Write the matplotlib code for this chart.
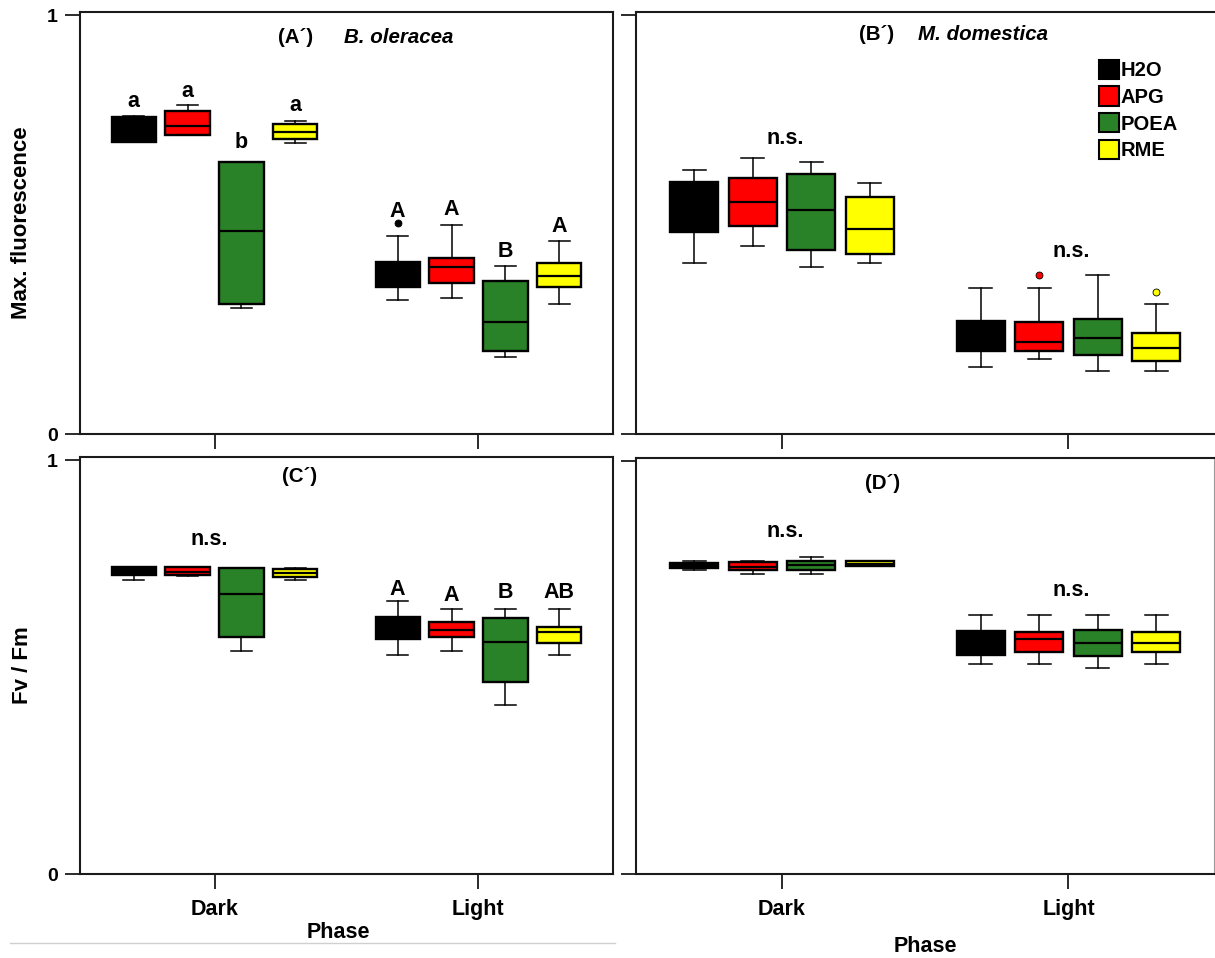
import matplotlib
matplotlib.use('Agg')
import matplotlib.pyplot as plt
from matplotlib.patches import Patch
from matplotlib.lines import Line2D

plt.rcParams['font.family'] = ['Liberation Sans', 'DejaVu Sans']

phases = ['Dark', 'Light']
treatments = ['H2O', 'APG', 'POEA', 'RME']
colors = ['#000000', '#FF0000', '#2A8228', '#FFFF00']

# ---- Panel A: Max. fluorescence, B. oleracea  ([Dark], [Light]) per treatment
A_lo  = [[0.698, 0.714, 0.302, 0.696], [0.321, 0.326, 0.184, 0.310]]
A_q1  = [[0.698, 0.714, 0.311, 0.705], [0.351, 0.360, 0.198, 0.352]]
A_med = [[0.730, 0.736, 0.486, 0.721], [0.380, 0.398, 0.268, 0.378]]
A_q3  = [[0.756, 0.772, 0.649, 0.740], [0.410, 0.421, 0.365, 0.408]]
A_hi  = [[0.760, 0.785, 0.649, 0.747], [0.474, 0.500, 0.402, 0.461]]
A_out = [[[], [], [], []], [[0.503], [], [], []]]
A_letters = [['a', 'a', 'b', 'a'], ['A', 'A', 'B', 'A']]
A_letter_y = [[0.781, 0.805, 0.682, 0.771], [0.519, 0.523, 0.424, 0.483]]

# ---- Panel B: Max. fluorescence, M. domestica
B_lo  = [[0.409, 0.449, 0.400, 0.409], [0.160, 0.180, 0.150, 0.150]]
B_q1  = [[0.483, 0.497, 0.440, 0.429], [0.199, 0.199, 0.189, 0.175]]
B_med = [[0.540, 0.555, 0.535, 0.490], [0.235, 0.219, 0.230, 0.205]]
B_q3  = [[0.601, 0.611, 0.621, 0.565], [0.270, 0.269, 0.275, 0.241]]
B_hi  = [[0.630, 0.660, 0.649, 0.600], [0.350, 0.350, 0.380, 0.310]]
B_out = [[[], [], [], []], [[], [0.380], [], [0.339]]]
B_ns_y = [0.692, 0.424]

# ---- Panel C: Fv/Fm, B. oleracea
C_lo  = [[0.710, 0.721, 0.540, 0.710], [0.529, 0.540, 0.409, 0.529]]
C_q1  = [[0.723, 0.722, 0.574, 0.718], [0.568, 0.574, 0.464, 0.559]]
C_med = [[0.735, 0.730, 0.676, 0.727], [0.595, 0.590, 0.561, 0.584]]
C_q3  = [[0.742, 0.741, 0.740, 0.737], [0.621, 0.610, 0.619, 0.596]]
C_hi  = [[0.742, 0.741, 0.740, 0.740], [0.660, 0.640, 0.640, 0.640]]
C_out = [[[], [], [], []], [[], [], [], []]]
C_ns_y = 0.794
C_letters = ['A', 'A', 'B', 'AB']
C_letter_y = [0.674, 0.660, 0.666, 0.666]

# ---- Panel D: Fv/Fm, M. domestica
D_lo  = [[0.737, 0.727, 0.727, 0.745], [0.508, 0.508, 0.498, 0.508]]
D_q1  = [[0.740, 0.736, 0.736, 0.746], [0.531, 0.537, 0.527, 0.537]]
D_med = [[0.747, 0.743, 0.749, 0.752], [0.560, 0.569, 0.559, 0.559]]
D_q3  = [[0.753, 0.755, 0.759, 0.758], [0.589, 0.587, 0.592, 0.587]]
D_hi  = [[0.759, 0.759, 0.768, 0.759], [0.628, 0.628, 0.628, 0.628]]
D_out = [[[], [], [], []], [[], [], [], []]]
D_ns_y = [0.817, 0.674]

W, H = 1215, 958
fig = plt.figure(figsize=(W / 100, H / 100), dpi=100)


def rect(l, t, r, b):
    return [l / W, 1 - b / H, (r - l) / W, (b - t) / H]


axA = fig.add_axes(rect(80, 11.7, 613, 434.3))
axB = fig.add_axes(rect(636, 11.7, 1214.5, 434.3))
axC = fig.add_axes(rect(80, 456.7, 613, 874.3))
axD = fig.add_axes(rect(636, 457.7, 1214.5, 874.3))

offsets = [-0.306, -0.102, 0.102, 0.306]
BOXW = 0.168
CAPW = 0.08


def draw_boxes(ax, lo, q1, med, q3, hi, out):
    for pi in range(len(phases)):
        for ti in range(len(treatments)):
            st = [dict(whislo=lo[pi][ti], q1=q1[pi][ti], med=med[pi][ti],
                       q3=q3[pi][ti], whishi=hi[pi][ti], fliers=out[pi][ti])]
            ax.bxp(st, positions=[pi + offsets[ti]], widths=BOXW,
                   capwidths=CAPW, patch_artist=True, showfliers=True,
                   boxprops=dict(facecolor=colors[ti], edgecolor='black',
                                 linewidth=1.7),
                   medianprops=dict(color='black', linewidth=1.6),
                   whiskerprops=dict(color='black', linewidth=1.1),
                   capprops=dict(color='black', linewidth=1.1),
                   flierprops=dict(marker='o', markersize=5,
                                   markerfacecolor=colors[ti],
                                   markeredgecolor='black',
                                   markeredgewidth=0.6),
                   manage_ticks=False, zorder=3)


def style(ax, ylabels, xlabels):
    ax.set_xlim(-0.51, 1.51)
    ax.set_ylim(0, 1.008)
    ax.set_yticks([0, 1])
    ax.set_xticks([0, 1])
    for s in ax.spines.values():
        s.set_linewidth(1.5)
        s.set_color('#1a1a1a')
    ax.tick_params(direction='out', length=10.8, width=1.3, color='#1a1a1a')
    ax.tick_params(axis='y', pad=5)
    ax.tick_params(axis='x', pad=7)
    if ylabels:
        ax.set_yticklabels(['0', '1'], fontsize=14, fontweight='bold')
    else:
        ax.set_yticklabels([])
    if xlabels:
        ax.set_xticklabels(phases, fontsize=15.5, fontweight='bold')
    else:
        ax.set_xticklabels([])


draw_boxes(axA, A_lo, A_q1, A_med, A_q3, A_hi, A_out)
draw_boxes(axB, B_lo, B_q1, B_med, B_q3, B_hi, B_out)
draw_boxes(axC, C_lo, C_q1, C_med, C_q3, C_hi, C_out)
draw_boxes(axD, D_lo, D_q1, D_med, D_q3, D_hi, D_out)

style(axA, True, False)
style(axB, False, False)
style(axC, True, True)
style(axD, False, True)
axB.spines['right'].set_visible(False)
axD.spines['right'].set_color('#9a9a9a')

LFS = 15.5
# letters panel A
for pi in range(2):
    for ti in range(4):
        axA.text(pi + offsets[ti], A_letter_y[pi][ti], A_letters[pi][ti],
                 ha='center', va='baseline', fontsize=LFS, fontweight='bold')
# n.s. panel B
for pi in range(2):
    axB.text(pi + 0.01, B_ns_y[pi], 'n.s.', ha='center', va='baseline',
             fontsize=LFS, fontweight='bold')
# panel C
axC.text(-0.02, C_ns_y, 'n.s.', ha='center', va='baseline',
         fontsize=LFS, fontweight='bold')
for ti in range(4):
    axC.text(1 + offsets[ti], C_letter_y[ti], C_letters[ti], ha='center',
             va='baseline', fontsize=LFS, fontweight='bold')
# panel D
for pi in range(2):
    axD.text(pi + 0.01, D_ns_y[pi], 'n.s.', ha='center', va='baseline',
             fontsize=LFS, fontweight='bold')

# panel titles
TFS = 14.8
axA.text(0.307, 0.934, '(A\u00B4)', ha='center', va='baseline', fontsize=TFS,
         fontweight='bold')
axA.text(0.492, 0.934, 'B. oleracea', ha='left', va='baseline', fontsize=TFS,
         fontweight='bold', style='italic')
axB.text(0.329, 0.940, '(B\u00B4)', ha='center', va='baseline', fontsize=TFS,
         fontweight='bold')
axB.text(0.476, 0.940, 'M. domestica', ha='left', va='baseline', fontsize=TFS,
         fontweight='bold', style='italic')
axC.text(0.324, 0.946, '(C\u00B4)', ha='center', va='baseline', fontsize=TFS,
         fontweight='bold')
axD.text(0.35, 0.933, '(D\u00B4)', ha='center', va='baseline', fontsize=TFS,
         fontweight='bold')

# legend in panel B
handles = [Patch(facecolor=c, edgecolor='black', linewidth=1.5) for c in colors]
axB.legend(handles, treatments, loc='upper left', bbox_to_anchor=(0.80, 0.886),
           frameon=False, prop=dict(weight='bold', size=14.5),
           handlelength=1.0, handleheight=1.1, handletextpad=0.1,
           labelspacing=0.3, borderpad=0, borderaxespad=0)

# axis labels
fig.text(22 / W, 1 - 223 / H, 'Max. fluorescence', rotation=90, ha='center',
         va='center', fontsize=16, fontweight='bold')
fig.text(22 / W, 1 - 665.5 / H, 'Fv / Fm', rotation=90, ha='center',
         va='center', fontsize=16, fontweight='bold')
fig.text(338 / W, 1 - 932.7 / H, 'Phase', ha='center', va='center',
         fontsize=15.5, fontweight='bold')
fig.text(925.5 / W, 1 - 946.7 / H, 'Phase', ha='center', va='center',
         fontsize=15.5, fontweight='bold')

# faint separator line seen at the bottom left of the reference
fig.add_artist(Line2D([10 / W, 615 / W], [1 - 942.7 / H, 1 - 942.7 / H],
                      color='#d0d0d0', linewidth=1.0))

fig.savefig('out.png', dpi=100)
